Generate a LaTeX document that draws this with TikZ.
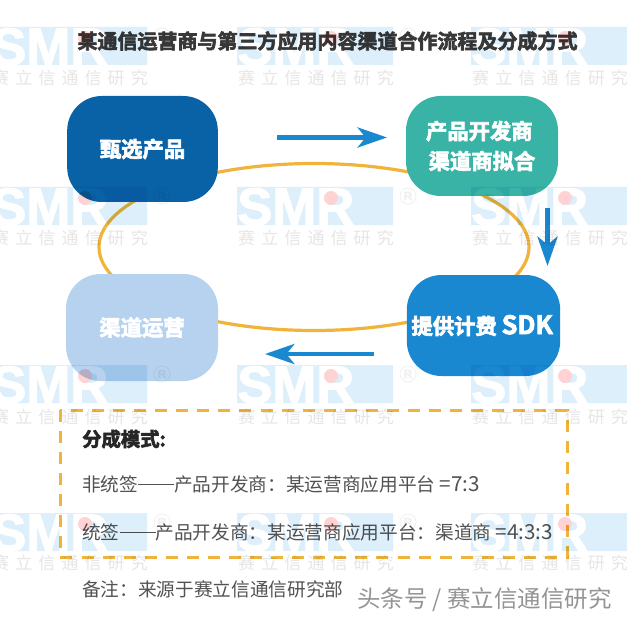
\documentclass[tikz,border=0pt]{standalone}
\usepackage{fontspec}
\setmainfont{Noto Sans CJK SC}
\newfontfamily\heavyfont[FakeBold=3]{Noto Sans CJK SC Bold}
\newfontfamily\smrfont[FakeBold=2]{Liberation Sans Bold}
\usetikzlibrary{arrows.meta, calc}

\definecolor{orangeline}{HTML}{F0B43C}
\definecolor{arrowblue}{HTML}{1A88D0}
\definecolor{selectblue}{HTML}{0A62A6}
\definecolor{devgreen}{HTML}{38B3A6}
\definecolor{opsblue}{HTML}{B6D2EE}
\definecolor{tileblue}{HTML}{DDEFFA}
\definecolor{tilepink}{HTML}{FFD3D3}
\definecolor{tilegray}{HTML}{E6E6E6}
\definecolor{tilefaint}{HTML}{F1F1F1}

\tikzset{
    stagebox/.style={minimum width=#1, text=white, rounded corners=26pt, inner sep=0pt, align=center,
        font=\heavyfont\fontsize{16}{22.5}\selectfont},
    flowarrow/.style={draw=arrowblue, line width=3.4pt, -{Stealth[length=22pt, width=15pt, inset=6pt]}},
    bodytext/.style={anchor=west, inner sep=0pt, text=black!68, font=\fontsize{14}{14}\selectfont},
}
\newcommand{\ratio}[1]{{\fontsize{15.5}{15.5}\selectfont #1}}
\newcommand{\longdash}{\rule[0.36em]{27pt}{0.5pt}}

\begin{document}
\begin{tikzpicture}[x=0.75pt, y=-0.75pt]
    \clip (0,0) rectangle (627,620);
    \fill[white] (0,0) rectangle (627,620);

    % ring behind the boxes
    \coordinate (ringcenter) at (314,247);
    \draw[orangeline, line width=2.4pt] (ringcenter) ellipse (215 and 83.5);

    \node[stagebox=113pt, minimum height=79.5pt, fill=selectblue] (selectbox) at (142.5,149) {甄选产品};
    \node[stagebox=114pt, minimum height=75pt, fill=devgreen] (devbox) at (482,146) {\kern-4pt 产品开发商\\渠道商拟合};
    \node[stagebox=115pt, minimum height=75.75pt, fill=arrowblue] (sdkbox) at (483.5,325.5) {\kern-2pt 提供计费 \fontsize{19}{22.5}\selectfont SDK};
    \node[stagebox=114pt, minimum height=80.25pt, fill=opsblue] (opsbox) at (142,327.5) {渠道运营};

    \coordinate (a1) at (277,137.5); \coordinate (a2) at (387,137.5);
    \coordinate (b1) at (547.5,208); \coordinate (b2) at (547.5,266);
    \coordinate (c1) at (374,354); \coordinate (c2) at (265,354);
    \draw[flowarrow] (a1) -- (a2);
    \draw[flowarrow] (b1) -- (b2);
    \draw[flowarrow] (c1) -- (c2);

    \node[inner sep=0pt, text=black!78, font=\heavyfont\fontsize{15}{15}\selectfont] (title) at (327.5,41) {某通信运营商与第三方应用内容渠道合作流程及分成方式};

    % dashed frame of the share modes
    \draw[orangeline, line width=2.25pt, dash pattern=on 9pt off 6.8pt] (60,410) rectangle (567,557);
    \node[bodytext, text=black!85, font=\heavyfont\fontsize{14.5}{14.5}\selectfont] (modes) at (82,439) {分成模式:};
    \node[bodytext] (nonunified) at (82,484) {非统签\longdash 产品开发商：某运营商应用平台 \ratio{=7:3}};
    \node[bodytext] (unified) at (82,532) {统签\longdash 产品开发商：某运营商应用平台：渠道商 \ratio{=4:3:3}};
    \node[bodytext] (note) at (82,589) {备注：来源于赛立信通信研究部};
    \node[inner sep=0pt, anchor=west, text=black!42, font=\fontsize{17.6}{17.6}\selectfont] (source) at (357,600) {头条号 / 赛立信通信研究};

    % watermark tiles over everything
    \begin{scope}[transparency group, blend mode=multiply]
        \foreach \tx in {-9,237,471} {
            \foreach \ty/\capy in {27/78,187/238,365/417,513/563} {
                \fill[tileblue] (\tx,\ty) rectangle ++(156,38);
                \node[anchor=base west, inner sep=0pt, text=white, font=\smrfont\fontsize{39.5}{39.5}\selectfont] (smr-\tx-\ty) at (\tx,\ty+38) {SMR};
                \fill[tilepink] (\tx+94,\ty+11) circle (7);
                \node[inner sep=0pt, text=tilefaint, font=\smrfont\fontsize{9}{9}\selectfont] (reg-\tx-\ty) at (\tx+171,\ty+9) {R};
                \draw[tilefaint, line width=0.6pt] (\tx+171,\ty+9) circle (8);
                \node[inner sep=0pt, text=tilegray, font=\addfontfeature{LetterSpace=36}\fontsize{12.75}{12.75}\selectfont] (cap-\tx-\ty) at (\tx+79,\capy) {赛立信通信研究};
            }
        }
    \end{scope}
\end{tikzpicture}
\end{document}
